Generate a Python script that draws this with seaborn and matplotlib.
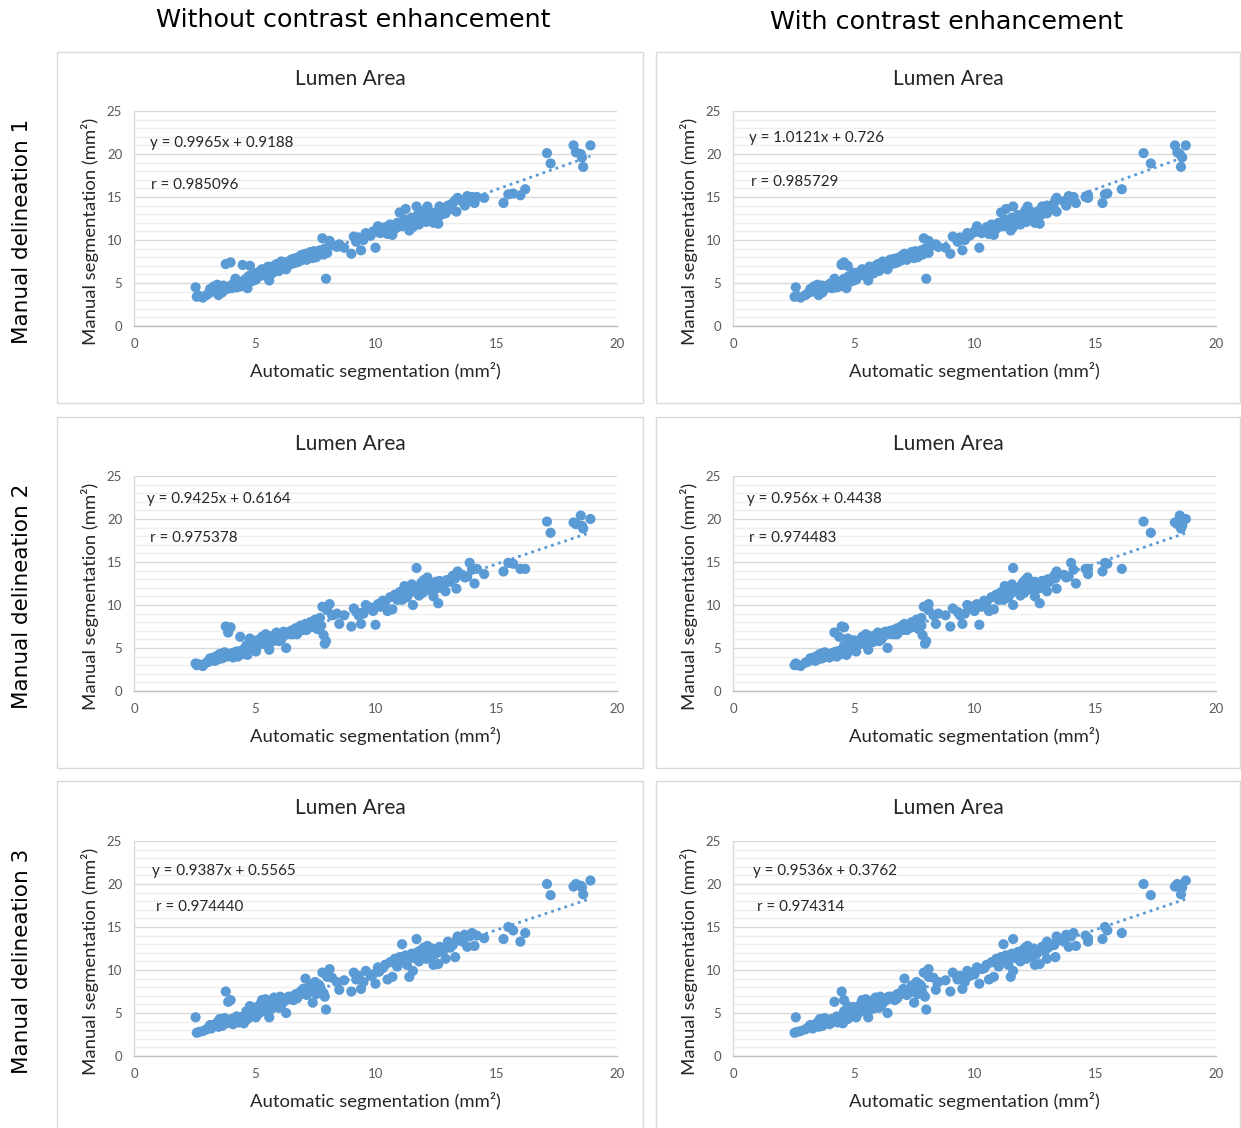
import matplotlib
matplotlib.use("Agg")
import matplotlib.pyplot as plt
from matplotlib.patches import Rectangle
from matplotlib.ticker import MultipleLocator
import seaborn as sns
import numpy as np

# ---------------- data ----------------
# automatic segmentation, without contrast enhancement (mm^2)
x_without = [2.55, 2.6, 2.7, 2.85, 3.0, 3.1, 3.2, 3.3, 3.35, 3.45, 3.5, 3.6, 3.7, 3.8, 4.0, 3.9, 3.85, 3.95, 4.1, 4.2,
             4.3, 4.4, 4.5, 4.55, 4.6, 4.7, 4.75, 4.8, 4.85, 4.9, 5.0, 5.05, 5.1, 5.2, 5.25, 5.3, 5.4, 5.45, 5.5, 5.6,
             5.65, 5.7, 5.8, 5.85, 5.9, 6.0, 6.05, 6.1, 6.2, 6.3, 6.4, 6.5, 6.6, 6.7, 6.8, 6.9, 7.0, 7.1, 7.2, 7.3,
             7.4, 7.5, 7.6, 7.7, 7.8, 7.85, 7.95, 7.9, 8.0, 8.1, 8.2, 8.4, 8.5, 8.7, 9.0, 9.1, 9.2, 9.3, 9.4, 9.5,
             9.6, 9.8, 9.9, 10.0, 10.1, 10.2, 10.4, 10.5, 10.7, 10.6, 10.8, 10.9, 11.0, 11.1, 11.2, 11.25, 11.3, 11.4, 11.5, 11.55,
             11.6, 11.7, 11.75, 11.8, 11.9, 12.0, 12.1, 12.15, 12.2, 12.3, 12.4, 12.5, 12.6, 12.65, 12.8, 12.9, 13.0, 13.1, 13.2, 13.3,
             13.35, 13.4, 13.6, 13.7, 13.8, 13.9, 14.0, 14.1, 14.2, 14.5, 15.3, 15.5, 15.7, 16.0, 16.2, 17.1, 17.25, 18.2, 18.3, 18.5,
             18.55, 18.6, 18.9, 3.15, 3.4, 3.55, 3.65, 3.75, 4.05, 4.15, 4.25, 4.35, 4.45, 4.65, 4.7, 4.8, 4.9, 4.95, 5.0, 5.15,
             5.2, 5.35, 5.5, 5.55, 5.7, 5.75, 5.95, 6.1, 6.25, 6.35, 6.5, 6.6, 6.75, 6.9, 7.0, 7.15, 7.25, 7.35, 7.45, 7.55,
             7.65, 7.75, 10.9, 11.15, 11.35, 11.45, 11.65, 11.85, 11.95, 12.05, 12.25, 12.35, 12.45, 12.55, 12.7, 12.85, 12.95, 13.1, 10.3, 10.15]

# automatic segmentation, with contrast enhancement (mm^2)
x_with = [2.6, 2.55, 2.65, 2.8, 3.0, 3.1, 3.3, 3.35, 3.4, 3.5, 3.55, 3.6, 3.7, 4.5, 4.6, 4.2, 3.8, 3.9, 4.0, 4.2,
          4.3, 4.4, 4.5, 4.55, 4.65, 4.7, 4.8, 4.75, 4.9, 5.0, 5.05, 5.1, 5.0, 5.2, 5.3, 5.35, 5.4, 5.5, 5.6, 5.6,
          5.7, 5.8, 5.9, 5.95, 6.0, 6.05, 6.1, 6.2, 6.3, 6.4, 6.45, 6.5, 6.7, 6.8, 6.85, 7.0, 7.05, 7.1, 7.3, 7.4,
          7.5, 7.6, 7.7, 7.8, 7.9, 7.85, 8.0, 7.95, 8.1, 8.1, 8.3, 8.5, 8.4, 8.8, 9.0, 9.1, 9.3, 9.4, 9.5, 9.6,
          9.7, 9.8, 10.0, 10.2, 10.1, 10.3, 10.5, 10.6, 10.8, 10.7, 10.9, 11.0, 11.1, 11.2, 11.25, 11.3, 11.4, 11.5, 11.55, 11.6,
          11.7, 11.6, 11.8, 11.9, 12.0, 12.1, 12.15, 12.2, 12.3, 12.4, 12.5, 12.5, 12.7, 12.8, 12.9, 13.0, 13.0, 13.05, 13.3, 13.35,
          13.4, 13.4, 13.7, 13.8, 13.9, 14.0, 14.1, 14.2, 14.6, 14.7, 15.3, 15.4, 15.5, 14.7, 16.1, 17.0, 17.3, 18.3, 18.4, 18.5,
          18.6, 18.55, 18.75, 3.2, 3.45, 3.6, 3.7, 3.8, 4.1, 4.15, 4.3, 4.35, 4.45, 4.6, 4.75, 4.85, 4.95, 5.0, 5.1, 5.2,
          5.25, 5.4, 5.5, 5.65, 5.75, 5.85, 6.0, 6.15, 6.3, 6.4, 6.55, 6.65, 6.8, 6.95, 7.1, 7.2, 7.35, 7.45, 7.55, 7.65,
          7.75, 7.8, 11.0, 11.2, 11.45, 11.5, 11.75, 11.95, 12.05, 12.1, 12.3, 12.45, 12.55, 12.6, 12.75, 12.95, 13.0, 13.1, 10.4, 10.0]

# manual segmentation, delineations 1-3 (mm^2)
y_manual_1 = [4.5, 3.4, 3.5, 3.3, 3.6, 3.8, 4.0, 4.6, 4.2, 4.8, 3.6, 4.4, 4.7, 7.2, 7.4, 4.5, 4.3, 4.6, 4.9, 5.5,
              5.0, 4.6, 7.1, 5.3, 4.8, 4.4, 5.8, 7.0, 5.2, 5.6, 6.0, 5.4, 6.2, 5.8, 6.4, 6.6, 5.9, 6.3, 6.5, 5.3,
              6.8, 6.1, 7.0, 6.7, 7.2, 6.4, 6.9, 7.5, 7.1, 6.6, 7.4, 7.7, 7.3, 7.9, 7.5, 8.2, 7.8, 8.4, 8.0, 8.6,
              7.9, 8.5, 8.2, 8.8, 10.2, 8.3, 5.5, 9.0, 8.5, 9.9, 9.4, 9.2, 9.5, 9.1, 8.4, 10.4, 9.8, 10.3, 8.8, 10.0,
              10.8, 10.5, 11.0, 9.1, 11.6, 10.8, 11.5, 10.7, 10.6, 11.8, 11.3, 12.0, 13.2, 11.6, 12.4, 13.6, 12.0, 11.1, 12.6, 11.5,
              12.2, 13.9, 12.9, 11.8, 12.5, 13.4, 12.1, 13.9, 12.7, 13.2, 12.0, 13.0, 11.9, 13.9, 13.5, 13.1, 14.0, 13.6, 14.3, 14.6,
              13.3, 14.9, 14.5, 14.0, 15.1, 14.8, 15.0, 14.3, 15.0, 14.9, 14.3, 15.3, 15.4, 15.2, 15.9, 20.1, 18.9, 21.0, 20.2, 20.0,
              19.6, 18.5, 21.0, 4.3, 4.0, 4.1, 3.9, 4.5, 4.4, 4.8, 4.5, 4.9, 5.1, 5.5, 5.0, 5.4, 5.9, 5.3, 5.7, 6.0,
              6.3, 6.1, 5.9, 6.9, 6.5, 6.2, 6.6, 6.8, 7.4, 7.2, 7.2, 7.8, 7.4, 7.6, 8.3, 7.7, 8.4, 8.3, 8.7, 8.0,
              8.6, 8.4, 11.5, 12.1, 12.3, 11.8, 12.6, 12.3, 12.8, 12.5, 12.4, 13.0, 12.6, 13.3, 12.9, 13.3, 13.7, 13.9, 11.2, 10.9]

y_manual_2 = [3.2, 3.0, 3.1, 2.9, 3.3, 3.4, 3.6, 3.9, 3.5, 4.1, 3.7, 4.2, 4.4, 7.5, 7.4, 6.8, 4.0, 4.3, 3.9, 4.5,
              4.0, 6.3, 4.3, 4.6, 5.0, 4.2, 5.5, 6.1, 4.8, 5.2, 5.6, 4.6, 5.9, 5.4, 6.0, 6.3, 5.5, 6.6, 5.9, 4.8,
              6.2, 5.7, 6.5, 6.0, 6.8, 5.8, 6.4, 6.6, 6.9, 5.0, 6.8, 7.0, 6.6, 7.3, 6.9, 7.6, 7.1, 7.8, 7.3, 8.0,
              7.5, 8.3, 7.2, 8.5, 9.8, 6.5, 5.8, 5.5, 9.4, 10.1, 8.8, 9.0, 7.8, 8.8, 7.5, 9.6, 9.2, 8.8, 7.8, 9.0,
              10.0, 9.7, 9.3, 7.7, 10.1, 9.8, 10.3, 9.3, 9.5, 10.9, 11.2, 11.0, 11.5, 10.6, 12.2, 11.8, 10.9, 11.4, 12.4, 10.0,
              11.6, 14.3, 12.0, 11.1, 12.6, 12.9, 11.7, 13.2, 11.9, 12.3, 11.0, 12.7, 10.2, 12.8, 12.2, 11.6, 12.8, 13.0, 13.4, 13.1,
              11.9, 13.9, 13.5, 13.2, 13.3, 14.9, 14.1, 12.5, 14.2, 13.6, 13.9, 14.9, 14.8, 14.2, 14.2, 19.7, 18.4, 19.6, 19.4, 20.4,
              19.2, 18.9, 20.0, 3.8, 3.9, 4.3, 3.8, 4.5, 4.4, 4.1, 4.6, 4.3, 4.7, 5.3, 4.5, 5.0, 5.6, 4.9, 5.3, 5.6,
              5.8, 5.6, 5.4, 6.4, 6.0, 6.1, 6.3, 6.0, 6.5, 6.7, 6.6, 7.1, 6.6, 7.3, 7.4, 7.1, 7.7, 7.6, 8.0, 7.3,
              7.9, 7.6, 10.6, 11.3, 11.2, 11.9, 11.9, 12.3, 11.4, 12.2, 12.0, 12.5, 11.8, 12.1, 12.0, 12.5, 12.9, 12.7, 10.5, 9.9]

y_manual_3 = [4.5, 2.7, 2.8, 2.9, 3.1, 3.3, 3.2, 3.6, 3.5, 3.9, 3.4, 4.0, 4.2, 7.5, 6.5, 6.3, 3.8, 4.1, 3.7, 4.3,
              4.0, 4.5, 4.2, 3.8, 4.7, 4.4, 5.0, 5.8, 4.6, 5.1, 5.4, 4.5, 5.7, 5.0, 6.1, 6.5, 5.3, 6.6, 5.9, 4.5,
              6.3, 5.5, 6.8, 6.0, 6.4, 5.6, 6.9, 6.2, 6.6, 5.0, 6.9, 6.7, 6.5, 7.2, 7.0, 7.5, 7.8, 9.0, 7.4, 8.2,
              6.2, 8.6, 7.9, 8.1, 9.7, 7.3, 5.4, 6.9, 9.2, 10.1, 9.1, 8.6, 7.7, 8.8, 7.5, 9.7, 8.9, 9.3, 7.8, 8.6,
              9.9, 9.3, 9.5, 8.4, 10.3, 10.1, 10.6, 8.9, 9.2, 10.9, 11.3, 10.8, 11.5, 13.0, 11.0, 11.7, 10.6, 9.2, 11.9, 9.9,
              11.4, 13.6, 12.1, 11.0, 12.3, 12.6, 11.3, 12.8, 12.0, 11.6, 10.6, 12.4, 10.7, 12.7, 12.2, 11.3, 13.3, 12.6, 12.9, 11.5,
              13.4, 13.9, 13.3, 14.1, 12.7, 13.9, 14.3, 12.8, 14.0, 13.7, 13.6, 15.0, 14.6, 13.3, 14.3, 20.0, 18.7, 19.7, 20.0, 19.8,
              19.6, 18.8, 20.4, 3.6, 3.7, 4.3, 3.5, 4.4, 4.3, 4.0, 4.6, 3.9, 4.5, 5.2, 4.3, 4.9, 5.6, 4.8, 5.2, 5.5,
              5.8, 5.6, 5.3, 6.4, 5.9, 6.1, 6.3, 5.9, 6.4, 6.6, 6.9, 6.8, 6.7, 7.2, 7.4, 7.1, 7.8, 7.5, 8.0, 7.2,
              8.3, 7.7, 10.4, 11.2, 11.3, 11.7, 11.8, 12.2, 11.5, 12.4, 11.9, 12.5, 11.8, 12.0, 12.3, 12.4, 12.7, 13.0, 10.2, 9.8]

# trend line labels (Excel linear trendlines) per panel, row-major
slopes = [0.9965, 1.0121, 0.9425, 0.956, 0.9387, 0.9536]
intercepts = [0.9188, 0.726, 0.6164, 0.4438, 0.5565, 0.3762]
eq_labels = ["y = 0.9965x + 0.9188", "y = 1.0121x + 0.726",
             "y = 0.9425x + 0.6164", "y = 0.956x + 0.4438",
             "y = 0.9387x + 0.5565", "y = 0.9536x + 0.3762"]
r_labels = ["r = 0.985096", "r = 0.985729",
            "r = 0.975378", "r = 0.974483",
            "r = 0.974440", "r = 0.974314"]

col_titles = ["Without contrast enhancement", "With contrast enhancement"]
row_titles = ["Manual delineation 1", "Manual delineation 2", "Manual delineation 3"]
panel_title = "Lumen Area"
x_label = "Automatic segmentation (mm²)"
y_label = "Manual segmentation (mm²)"
x_ticks = [0, 5, 10, 15, 20]
y_ticks = [0, 5, 10, 15, 20, 25]

# ---------------- drawing ----------------
sns.set_theme(style="white")
plt.rcParams["font.family"] = ["Lato", "DejaVu Sans"]

W, H = 1241, 1128
fig = plt.figure(figsize=(W / 100, H / 100), dpi=100)
fig.patch.set_facecolor("white")

def fx(px):
    return px / W

def fy(py):
    return 1 - py / H

BLUE = "#5B9BD5"
TXT = "#262626"
TICK = "#595959"

xs = [x_without, x_with]
ys = [y_manual_1, y_manual_2, y_manual_3]

box_left = [57, 656]
box_right = [643, 1240]
box_top = [52, 417, 781]
box_bottom = [403, 768, 1140]
ax_left = [134, 733]
ax_w = 483
ax_top = [111, 476, 841]
ax_h = 215
eq_pos = [[(150, 143), (749, 138)], [(147, 499), (747, 499)], [(152, 871), (753, 871)]]
r_pos = [[(151, 185), (751, 182)], [(150, 538), (749, 538)], [(156, 907), (757, 907)]]

for r in range(3):
    for c in range(2):
        k = r * 2 + c
        # panel frame
        fig.patches.append(Rectangle((fx(box_left[c]), fy(box_bottom[r])),
                                     fx(box_right[c] - box_left[c]),
                                     (box_bottom[r] - box_top[r]) / H,
                                     transform=fig.transFigure, fill=False,
                                     edgecolor="#d9d9d9", linewidth=1.0, zorder=0))
        ax = fig.add_axes([fx(ax_left[c]), fy(ax_top[r] + ax_h), ax_w / W, ax_h / H])
        x = np.array(xs[c])
        y = np.array(ys[r])
        # trend line
        xl = np.array([x.min(), x.max()])
        ax.plot(xl, slopes[k] * xl + intercepts[k], linestyle=(0, (1, 1.5)),
                color=BLUE, linewidth=2.0, zorder=2)
        sns.scatterplot(x=x, y=y, ax=ax, color=BLUE, s=54, edgecolor="none",
                        linewidth=0, alpha=1.0, zorder=3, legend=False)
        ax.set_xlim(0, 20)
        ax.set_ylim(0, 25)
        ax.set_xticks(x_ticks)
        ax.set_yticks(y_ticks)
        ax.yaxis.set_minor_locator(MultipleLocator(1))
        ax.grid(which="major", axis="y", color="#d9d9d9", linewidth=1.0)
        ax.grid(which="minor", axis="y", color="#efefef", linewidth=1.0)
        ax.grid(which="both", axis="x", visible=False)
        ax.set_axisbelow(True)
        for s in ["top", "right"]:
            ax.spines[s].set_visible(False)
        ax.spines["left"].set_color("#d9d9d9")
        ax.spines["bottom"].set_color("#bfbfbf")
        ax.spines["left"].set_linewidth(1.0)
        ax.spines["bottom"].set_linewidth(1.0)
        ax.tick_params(axis="both", which="major", direction="out", length=4,
                       width=1, color="#bfbfbf", labelsize=9.5, labelcolor=TICK, pad=4.5)
        ax.tick_params(axis="y", which="minor", length=0)
        ax.set_xlabel("")
        ax.set_ylabel("")
        # texts
        cx = (box_left[c] + box_right[c]) / 2
        fig.text(fx(cx), fy(box_top[r] + 27), panel_title, ha="center", va="center",
                 fontsize=15, color=TXT)
        fig.text(fx(ax_left[c] + ax_w / 2), fy(ax_top[r] + ax_h + 45), x_label,
                 ha="center", va="center", fontsize=13.3, color=TXT)
        fig.text(fx(ax_left[c] - 44), fy(ax_top[r] + 120), y_label, ha="center",
                 va="center", rotation=90, fontsize=13.3, color=TXT)
        ex, ey = eq_pos[r][c]
        fig.text(fx(ex), fy(ey), eq_labels[k], ha="left", va="center",
                 fontsize=10.9, color=TXT)
        rx, ry = r_pos[r][c]
        fig.text(fx(rx), fy(ry), r_labels[k], ha="left", va="center",
                 fontsize=10.9, color=TXT)

# column headers and row labels
fig.text(fx(353), fy(20), col_titles[0], ha="center", va="center",
         fontsize=18.3, color="black", family=["DejaVu Sans"])
fig.text(fx(947), fy(22), col_titles[1], ha="center", va="center",
         fontsize=18.3, color="black", family=["DejaVu Sans"])
for r in range(3):
    fig.text(fx(22), fy(231 + 365 * r), row_titles[r], ha="center", va="center",
             rotation=90, fontsize=15.5, color="black", family=["DejaVu Sans"])

fig.savefig("out.png", dpi=100, facecolor="white")
